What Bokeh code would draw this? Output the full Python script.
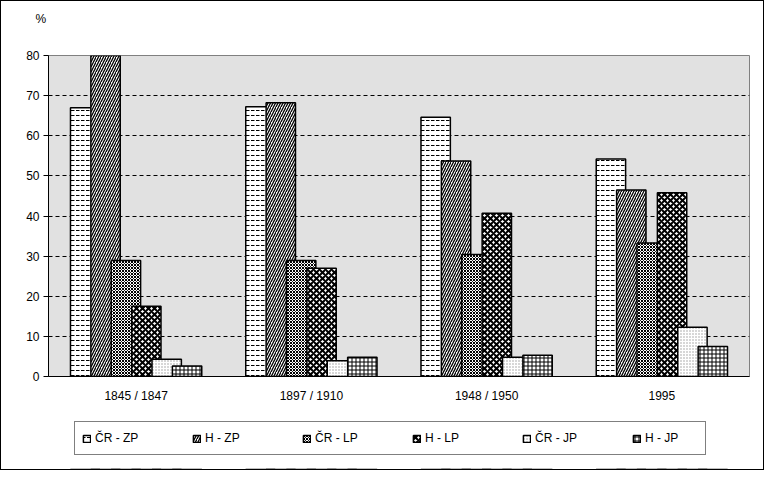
from bokeh.plotting import figure
from bokeh.layouts import column
from bokeh.models import (Legend, LegendItem, Range1d, FactorRange, ColumnDataSource,
                          FixedTicker)
from bokeh.transform import dodge
from bokeh.embed import file_html
from bokeh.resources import INLINE

# ---- data ----
categories = ["1845 / 1847", "1897 / 1910", "1948 / 1950", "1995"]
series_names = ["ČR - ZP", "H - ZP", "ČR - LP", "H - LP", "ČR - JP", "H - JP"]
cr_zp = [67.0, 67.2, 64.6, 54.2]
h_zp = [80.0, 68.2, 53.7, 46.5]
cr_lp = [28.9, 28.9, 30.4, 33.3]
h_lp = [17.5, 27.0, 40.7, 45.8]
cr_jp = [4.3, 3.9, 4.8, 12.3]
h_jp = [2.6, 4.8, 5.3, 7.5]
y_ticks = [0, 10, 20, 30, 40, 50, 60, 70, 80]
unit_label = "%"

keys = ["cr_zp", "h_zp", "cr_lp", "h_lp", "cr_jp", "h_jp"]
source = ColumnDataSource(dict(cat=categories, cr_zp=cr_zp, h_zp=h_zp, cr_lp=cr_lp,
                               h_lp=h_lp, cr_jp=cr_jp, h_jp=h_jp))

FONT = "Liberation Sans"
W = 762
H_HEAD = 46
H_MAIN = 366
H_LEG = 56


def strip(height, xr, yr):
    f = figure(width=W, height=height, output_backend="svg", toolbar_location=None,
               x_range=xr, y_range=yr, x_axis_location=None, y_axis_location=None,
               min_border=0, min_border_left=0, min_border_right=0,
               min_border_top=0, min_border_bottom=0)
    f.grid.visible = False
    f.outline_line_color = None
    f.background_fill_color = "white"
    f.border_fill_color = "white"
    return f


# ---- header strip carrying the unit label as its title ----
head = strip(H_HEAD, Range1d(0, 1), Range1d(0, 1))
head.title.text = unit_label
head.title.align = "left"
head.title.offset = -13
head.title.standoff = 16
head.title.text_font = FONT
head.title.text_font_size = "12px"
head.title.text_font_style = "normal"
head.title.text_color = "black"

# ---- main chart ----
fig = figure(x_range=FactorRange(factors=categories, range_padding=0),
             y_range=Range1d(0, 80),
             width=W, height=H_MAIN, output_backend="svg", toolbar_location=None,
             min_border_left=47, min_border_right=14, min_border_top=8,
             min_border_bottom=H_MAIN - (375 - H_HEAD))

fig.background_fill_color = "#e1e1e1"
fig.border_fill_color = "white"
fig.outline_line_color = "#808080"
fig.outline_line_width = 1

styles = [
    dict(hatch_pattern="horizontal_dash", hatch_color="black", hatch_scale=5, hatch_weight=1),
    dict(hatch_pattern="right_diagonal_line", hatch_color="black", hatch_scale=5, hatch_weight=1.3),
    dict(hatch_pattern="diagonal_cross", hatch_color="black", hatch_scale=3, hatch_weight=1),
    dict(hatch_pattern="diagonal_cross", hatch_color="black", hatch_scale=6, hatch_weight=2),
    dict(hatch_pattern="dot", hatch_color="#9a9a9a", hatch_scale=3, hatch_weight=1),
    dict(hatch_pattern="cross", hatch_color="black", hatch_scale=4, hatch_weight=1),
]

step = 0.1163
bw = 0.1676
for i, (k, st) in enumerate(zip(keys, styles)):
    off = (i - 2.5) * step
    fig.vbar(x=dodge("cat", off, range=fig.x_range), top=k, width=bw, source=source,
             fill_color="white", line_color="black", line_width=1.5, **st)

fig.yaxis.ticker = FixedTicker(ticks=y_ticks)
fig.yaxis.minor_tick_line_color = None
fig.yaxis.major_tick_out = 5
fig.yaxis.major_tick_in = 0
fig.yaxis.major_label_standoff = 4
fig.yaxis.axis_line_color = "black"
fig.yaxis.major_tick_line_color = "black"

fig.xaxis.major_tick_line_color = None
fig.xaxis.minor_tick_line_color = None
fig.xaxis.major_tick_out = 0
fig.xaxis.major_label_standoff = 12
fig.xaxis.axis_line_color = "black"

for ax in (fig.xaxis, fig.yaxis):
    ax.major_label_text_font = FONT
    ax.major_label_text_font_size = "12px"
    ax.major_label_text_color = "black"

fig.xgrid.grid_line_color = None
fig.ygrid.grid_line_color = "black"
fig.ygrid.grid_line_dash = "4 3"
fig.ygrid.grid_line_width = 1

# ---- legend strip (bars drawn out of view so only the legend shows) ----
leg_fig = strip(H_LEG, FactorRange(factors=categories, range_padding=0), Range1d(1000, 1001))
leg_renderers = []
for i, (k, st) in enumerate(zip(keys, styles)):
    off = (i - 2.5) * step
    r = leg_fig.vbar(x=dodge("cat", off, range=leg_fig.x_range), top=k, width=bw,
                     source=source, fill_color="white", line_color="black",
                     line_width=1.5, **st)
    leg_renderers.append(r)

legend = Legend(items=[LegendItem(label=n, renderers=[r]) for n, r in zip(series_names, leg_renderers)],
                orientation="horizontal", location=(26, 14),
                glyph_width=9, glyph_height=9, label_standoff=4, label_width=53,
                label_height=18, spacing=44, padding=7, margin=0,
                label_text_font=FONT, label_text_font_size="12px", label_text_color="black",
                border_line_color="black", border_line_width=1,
                background_fill_color="white", background_fill_alpha=1)
leg_fig.add_layout(legend, "center")

p = column(head, fig, leg_fig, spacing=0, styles={"border": "1px solid black"})

open("out.html", "w").write(file_html(p, INLINE))
